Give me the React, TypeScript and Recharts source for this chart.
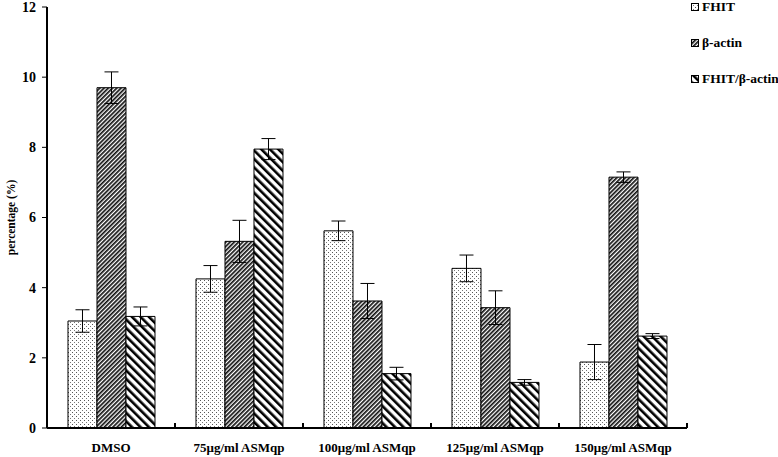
import React from 'react';
import { BarChart, Bar, XAxis, YAxis, ErrorBar } from 'recharts';

const categories = ['DMSO', '75μg/ml ASMqp', '100μg/ml ASMqp', '125μg/ml ASMqp', '150μg/ml ASMqp'];
const fhit = [3.05, 4.25, 5.62, 4.55, 1.88];
const fhitErr = [0.32, 0.38, 0.28, 0.38, 0.5];
const actin = [9.7, 5.32, 3.62, 3.43, 7.15];
const actinErr = [0.45, 0.6, 0.5, 0.48, 0.15];
const ratio = [3.18, 7.95, 1.55, 1.3, 2.62];
const ratioErr = [0.27, 0.3, 0.18, 0.08, 0.07];
const yTicks = [0, 2, 4, 6, 8, 10, 12];
const seriesNames = ['FHIT', 'β-actin', 'FHIT/β-actin'];

const data = categories.map((c, i) => ({
  name: c,
  fhit: fhit[i],
  fhitErr: fhitErr[i],
  actin: actin[i],
  actinErr: actinErr[i],
  ratio: ratio[i],
  ratioErr: ratioErr[i],
}));

const W = 778;
const H = 457;
const LEFT = 47;
const RIGHT = 91;
const TOP = 7;
const XH = 29;
const BAND = (W - LEFT - RIGHT) / categories.length;
const FONT = '"Liberation Serif", "Times New Roman", serif';

const patternIds = ['patDots', 'patDense', 'patWide'];

const XTick = (props: any) => {
  const { x, payload } = props;
  return (
    <g>
      <line x1={x + BAND / 2} x2={x + BAND / 2} y1={H - XH} y2={H - XH - 5} stroke="#000" strokeWidth={2} />
      <text x={x} y={H - XH + 24} textAnchor="middle" fontFamily={FONT} fontWeight="bold" fontSize={13} fill="#000">
        {payload.value}
      </text>
    </g>
  );
};

const LegendBox = () => (
  <div
    style={{
      position: 'absolute',
      left: 691,
      top: -11,
      fontFamily: FONT,
      fontWeight: 'bold',
      fontSize: 13.5,
      color: '#000',
    }}
  >
    {seriesNames.map((n, i) => (
      <div key={n} style={{ display: 'flex', alignItems: 'center', height: 36, whiteSpace: 'nowrap' }}>
        <svg width={8} height={8} style={{ marginRight: 3 }}>
          <rect x={0.5} y={0.5} width={7} height={7} fill={`url(#${patternIds[i]})`} stroke="#000" strokeWidth={1} />
        </svg>
        <span>{n}</span>
      </div>
    ))}
  </div>
);

export default function App() {
  return (
    <div style={{ position: 'absolute', left: 0, top: 0, width: W, height: H }}>
      <BarChart
        width={W}
        height={H}
        data={data}
        margin={{ top: TOP, right: RIGHT, bottom: 0, left: 0 }}
        barCategoryGap="16.4%"
        barGap={0}
      >
        <defs>
          <pattern id="patDots" width={4} height={4} patternUnits="userSpaceOnUse">
            <rect width={4} height={4} fill="#fff" />
            <rect x={0} y={0} width={1} height={1} fill="#555" />
            <rect x={2} y={2} width={1} height={1} fill="#777" />
          </pattern>
          <pattern id="patDense" width={3} height={3} patternUnits="userSpaceOnUse" patternTransform="rotate(45)">
            <rect width={3} height={3} fill="#fff" />
            <rect x={0} y={0} width={1.7} height={3} fill="#111" />
          </pattern>
          <pattern id="patWide" width={6} height={6} patternUnits="userSpaceOnUse" patternTransform="rotate(-45)">
            <rect width={6} height={6} fill="#fff" />
            <rect x={0} y={0} width={2.6} height={6} fill="#000" />
          </pattern>
        </defs>
        <XAxis
          dataKey="name"
          height={XH}
          interval={0}
          tickLine={false}
          axisLine={{ stroke: '#000', strokeWidth: 2 }}
          tick={<XTick />}
        />
        <YAxis
          width={LEFT}
          domain={[0, 12]}
          ticks={yTicks}
          interval={0}
          tickSize={5}
          tickMargin={6}
          tickLine={{ stroke: '#000' }}
          axisLine={{ stroke: '#000', strokeWidth: 2 }}
          tick={{ fontFamily: FONT, fontWeight: 'bold', fontSize: 14, fill: '#000' }}
          label={{
            value: 'percentage (%)',
            angle: -90,
            position: 'insideLeft',
            dx: 6,
            style: { fontFamily: FONT, fontWeight: 'bold', fontSize: 11.5, fill: '#000', textAnchor: 'middle' },
          }}
        />
        <Bar dataKey="fhit" name={seriesNames[0]} fill="url(#patDots)" stroke="#000" strokeWidth={1} isAnimationActive={false}>
          <ErrorBar dataKey="fhitErr" width={7} stroke="#000" strokeWidth={1} />
        </Bar>
        <Bar dataKey="actin" name={seriesNames[1]} fill="url(#patDense)" stroke="#000" strokeWidth={1} isAnimationActive={false}>
          <ErrorBar dataKey="actinErr" width={7} stroke="#000" strokeWidth={1} />
        </Bar>
        <Bar dataKey="ratio" name={seriesNames[2]} fill="url(#patWide)" stroke="#000" strokeWidth={1} isAnimationActive={false}>
          <ErrorBar dataKey="ratioErr" width={7} stroke="#000" strokeWidth={1} />
        </Bar>
      </BarChart>
      <LegendBox />
    </div>
  );
}
